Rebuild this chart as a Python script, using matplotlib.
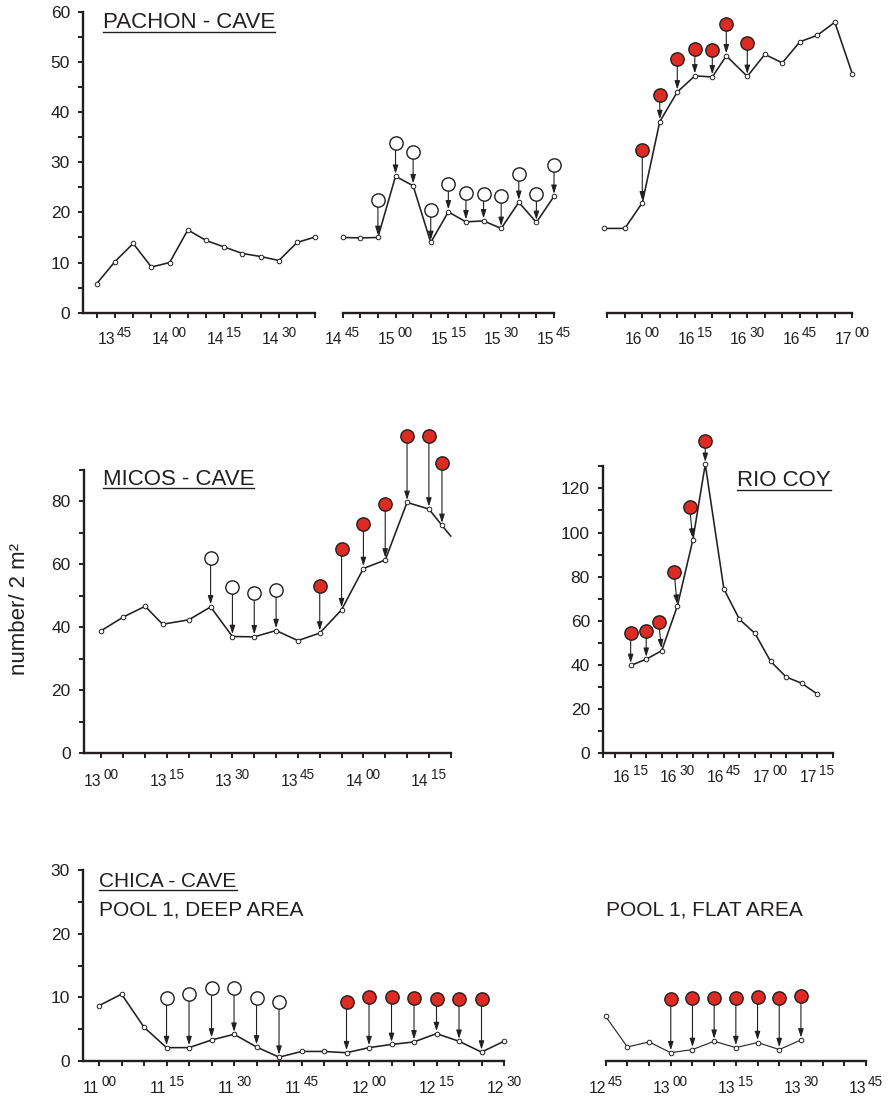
import numpy as np
import matplotlib.pyplot as plt
from matplotlib.lines import Line2D
from matplotlib.ticker import MultipleLocator
from matplotlib.transforms import offset_copy

plt.rcParams['font.family'] = ['Liberation Sans', 'DejaVu Sans']

INK = '#231f20'
RED = '#dc2b22'

# ---- PACHON - CAVE (three runs) ----
pachon_a_time = ['13:40', '13:45', '13:50', '13:55', '14:00', '14:05', '14:10',
                 '14:15', '14:20', '14:25', '14:30', '14:35', '14:40']
pachon_a_n = [5.8, 10.2, 13.8, 9.1, 10.0, 16.5, 14.4, 13.1, 11.8, 11.2, 10.4, 14.0, 15.1]

pachon_b_time = ['14:45', '14:50', '14:55', '15:00', '15:05', '15:10', '15:15',
                 '15:20', '15:25', '15:30', '15:35', '15:40', '15:45']
pachon_b_n = [15.0, 14.9, 15.0, 27.2, 25.3, 14.0, 20.1, 18.1, 18.3, 16.8, 22.0, 18.0, 23.2]
pachon_b_open_time = ['14:55', '15:00', '15:05', '15:10', '15:15', '15:20',
                      '15:25', '15:30', '15:35', '15:40', '15:45']
pachon_b_open = [22.5, 33.9, 32.0, 20.5, 25.6, 23.8, 23.7, 23.2, 27.6, 23.6, 29.4]

pachon_c_time = ['15:49', '15:55', '16:00', '16:05', '16:10', '16:15', '16:20', '16:24',
                 '16:30', '16:35', '16:40', '16:45', '16:50', '16:55', '17:00']
pachon_c_n = [16.8, 16.8, 21.9, 38.1, 44.0, 47.2, 47.0, 51.2, 47.1, 51.5, 49.8,
              54.0, 55.3, 57.9, 47.6]
pachon_c_red_time = ['16:00', '16:05', '16:10', '16:15', '16:20', '16:24', '16:30']
pachon_c_red = [32.4, 43.3, 50.5, 52.5, 52.4, 57.5, 53.7]

# ---- MICOS - CAVE ----
micos_time = ['13:00', '13:05', '13:10', '13:14', '13:20', '13:25', '13:30', '13:35',
              '13:40', '13:45', '13:50', '13:55', '14:00', '14:05', '14:10', '14:15',
              '14:18', '14:20']
micos_n = [39.0, 43.3, 46.7, 41.0, 42.4, 46.5, 37.1, 37.0, 39.0, 35.8, 38.2, 45.6,
           58.7, 61.4, 79.7, 77.6, 72.4, 69.0]
micos_open_time = ['13:25', '13:30', '13:35', '13:40']
micos_open = [62.1, 52.7, 50.8, 51.8]
micos_red_time = ['13:50', '13:55', '14:00', '14:05', '14:10', '14:15', '14:18']
micos_red = [53.3, 64.9, 72.8, 79.2, 100.8, 100.8, 92.3]

# ---- RIO COY ----
rio_time = ['16:15', '16:20', '16:25', '16:30', '16:35', '16:39', '16:45', '16:50',
            '16:55', '17:00', '17:05', '17:10', '17:15']
rio_n = [39.8, 42.6, 46.5, 66.6, 96.6, 130.9, 74.4, 60.7, 54.3, 41.7, 34.6, 31.7, 26.9]
rio_red_time = ['16:15', '16:20', '16:24', '16:29', '16:34', '16:39']
rio_red = [54.3, 55.2, 59.5, 82.1, 111.4, 141.6]

# ---- CHICA - CAVE, pool 1 ----
deep_time = ['11:00', '11:05', '11:10', '11:15', '11:20', '11:25', '11:30', '11:35',
             '11:40', '11:45', '11:50', '11:55', '12:00', '12:05', '12:10', '12:15',
             '12:20', '12:25', '12:30']
deep_n = [8.7, 10.5, 5.3, 2.1, 2.1, 3.3, 4.2, 2.2, 0.6, 1.5, 1.5, 1.3, 2.1, 2.6,
          3.0, 4.3, 3.1, 1.4, 3.1]
deep_open_time = ['11:15', '11:20', '11:25', '11:30', '11:35', '11:40']
deep_open = [9.9, 10.6, 11.4, 11.5, 9.9, 9.2]
deep_red_time = ['11:55', '12:00', '12:05', '12:10', '12:15', '12:20', '12:25']
deep_red = [9.3, 10.1, 10.1, 9.9, 9.8, 9.8, 9.7]

flat_time = ['12:45', '12:50', '12:55', '13:00', '13:05', '13:10', '13:15', '13:20',
             '13:25', '13:30']
flat_n = [7.0, 2.2, 3.0, 1.3, 1.8, 3.1, 2.1, 2.9, 1.8, 3.3]
flat_red_time = ['13:00', '13:05', '13:10', '13:15', '13:20', '13:25', '13:30']
flat_red = [9.8, 9.9, 9.9, 9.9, 10.1, 9.9, 10.2]

# x tick labels (quarter hours)
pachon_a_labels = ['13:45', '14:00', '14:15', '14:30']
pachon_b_labels = ['14:45', '15:00', '15:15', '15:30', '15:45']
pachon_c_labels = ['16:00', '16:15', '16:30', '16:45', '17:00']
micos_labels = ['13:00', '13:15', '13:30', '13:45', '14:00', '14:15']
rio_labels = ['16:15', '16:30', '16:45', '17:00', '17:15']
deep_labels = ['11:00', '11:15', '11:30', '11:45', '12:00', '12:15', '12:30']
flat_labels = ['12:45', '13:00', '13:15', '13:30', '13:45']


def to_min(s):
    h, m = s.split(':')
    return int(h) * 60 + float(m)


W, H = 891, 1099
fig = plt.figure(figsize=(W / 100, H / 100), dpi=100)


def add_ax(x0, y0, x1, y1):
    return fig.add_axes([x0 / W, 1 - y1 / H, (x1 - x0) / W, (y1 - y0) / H])


def style(ax, xlim, ylim, first, last, labels, ystep=None, ylabstep=None,
          bounds=None, extra=None, lab_dy=31):
    ax.set_xlim(to_min(xlim[0]), to_min(xlim[1]))
    ax.set_ylim(*ylim)
    ax.patch.set_visible(False)
    for s in ['top', 'right']:
        ax.spines[s].set_visible(False)
    for s in ['left', 'bottom']:
        ax.spines[s].set_linewidth(1.7)
        ax.spines[s].set_color(INK)
    if bounds:
        ax.spines['bottom'].set_bounds(to_min(bounds[0]), to_min(bounds[1]))
    ticks = list(np.arange(to_min(first), to_min(last) + 0.1, 5))
    if extra:
        ticks = [to_min(extra)] + ticks
    ax.set_xticks(ticks)
    ax.tick_params(axis='x', direction='out', length=3.6, width=1.4, color=INK,
                   labelbottom=False)
    # hour with minutes raised, as in the original
    trans = ax.get_xaxis_transform()
    for lab in labels:
        h, m = lab.split(':')
        t = to_min(lab)
        ax.text(t, 0, h, fontsize=11.3, color=INK, ha='right', va='baseline',
                transform=offset_copy(trans, fig, x=0, y=-lab_dy, units='dots'))
        ax.text(t, 0, m, fontsize=9.8, color=INK, ha='left', va='baseline',
                transform=offset_copy(trans, fig, x=2.2, y=-lab_dy + 7, units='dots'))
    if ystep is None:
        ax.spines['left'].set_visible(False)
        ax.tick_params(axis='y', left=False, labelleft=False)
    else:
        ax.yaxis.set_major_locator(MultipleLocator(ylabstep))
        ax.yaxis.set_minor_locator(MultipleLocator(ystep))
        ax.tick_params(axis='y', which='both', direction='out', length=3.6, width=1.4,
                       color=INK, labelsize=12.5, labelcolor=INK, pad=6)


def draw_series(ax, times, values, lw=1.15, n_marks=None):
    t = [to_min(s) for s in times]
    ax.plot(t, values, '-', color=INK, lw=lw, clip_on=False, zorder=3)
    ax.plot(t[:n_marks], values[:n_marks], 'o', ms=3.3, mfc='white', mec=INK,
            mew=0.7, clip_on=False, zorder=4)


def draw_marks(ax, mark_times, mark_values, times, values, face):
    t = np.array([to_min(s) for s in times])
    for mt_s, mv in zip(mark_times, mark_values):
        mt = to_min(mt_s)
        i = int(np.argmin(np.abs(t - mt)))
        ann = ax.annotate('', xy=(t[i], values[i]), xytext=(mt, mv),
                          arrowprops=dict(arrowstyle='-|>,head_length=0.5,head_width=0.16',
                                          mutation_scale=10, color=INK, lw=0.8,
                                          shrinkA=5, shrinkB=1.8),
                          annotation_clip=False, zorder=5)
        ann.arrow_patch.set_clip_on(False)
    ax.plot([to_min(s) for s in mark_times], mark_values, 'o', ms=9.6, mfc=face,
            mec=INK, mew=1.0, clip_on=False, zorder=6)


# top row: PACHON
ax1 = add_ax(83.3, 11.7, 315.3, 312.7)
style(ax1, ('13:36.3', '14:40'), (0, 60), '13:40', '14:40', pachon_a_labels, 5, 10,
      lab_dy=31)
draw_series(ax1, pachon_a_time, pachon_a_n)

ax2 = add_ax(342.7, 11.7, 554, 312.7)
style(ax2, ('14:45', '15:45'), (0, 60), '14:45', '15:45', pachon_b_labels, lab_dy=31)
draw_series(ax2, pachon_b_time, pachon_b_n)
draw_marks(ax2, pachon_b_open_time, pachon_b_open, pachon_b_time, pachon_b_n, 'white')

ax3 = add_ax(603.8, 11.7, 852.3, 312.7)
style(ax3, ('15:49', '17:00'), (0, 60), '15:50', '17:00', pachon_c_labels,
      bounds=('15:50', '17:00'), lab_dy=31)
draw_series(ax3, pachon_c_time, pachon_c_n)
draw_marks(ax3, pachon_c_red_time, pachon_c_red, pachon_c_time, pachon_c_n, RED)

# middle row: MICOS and RIO COY
ax4 = add_ax(84, 470, 450.7, 753.3)
style(ax4, ('12:56', '14:20'), (0, 90), '13:00', '14:20', micos_labels, 10, 20,
      lab_dy=33)
draw_series(ax4, micos_time, micos_n, n_marks=-1)
draw_marks(ax4, micos_open_time, micos_open, micos_time, micos_n, 'white')
draw_marks(ax4, micos_red_time, micos_red, micos_time, micos_n, RED)

ax5 = add_ax(603.3, 466.3, 832.7, 753.3)
style(ax5, ('16:06.2', '17:20'), (0, 130), '16:10', '17:20', rio_labels, 10, 20,
      extra='16:06.2', lab_dy=29)
draw_series(ax5, rio_time, rio_n)
draw_marks(ax5, rio_red_time, rio_red, rio_time, rio_n, RED)

# bottom row: CHICA
ax6 = add_ax(83.3, 870, 504, 1061)
style(ax6, ('10:56.5', '12:30'), (0, 30), '11:00', '12:30', deep_labels, 5, 10,
      lab_dy=32)
draw_series(ax6, deep_time, deep_n)
draw_marks(ax6, deep_open_time, deep_open, deep_time, deep_n, 'white')
draw_marks(ax6, deep_red_time, deep_red, deep_time, deep_n, RED)

ax7 = add_ax(605.7, 870, 866, 1061)
style(ax7, ('12:45', '13:45'), (0, 30), '12:45', '13:45', flat_labels, lab_dy=32)
draw_series(ax7, flat_time, flat_n, lw=0.8)
draw_marks(ax7, flat_red_time, flat_red, flat_time, flat_n, RED)

# panel titles
titles = []


def title(text, x, y_base, size, underline=True):
    t = fig.text(x / W, 1 - y_base / H, text, fontsize=size, color=INK,
                 ha='left', va='baseline')
    if underline:
        titles.append((t, y_base))


title('PACHON - CAVE', 103, 28.3, 16)
title('MICOS - CAVE', 103, 485, 16)
title('RIO COY', 737, 486, 16)
title('CHICA - CAVE', 99.3, 886.7, 15)
title('POOL 1, DEEP AREA', 99.3, 915, 15, underline=False)
title('POOL 1, FLAT AREA', 606, 915, 15, underline=False)

fig.text(20 / W, 1 - 609 / H, 'number/ 2 m²', rotation=90, fontsize=16,
         color=INK, ha='center', va='center')

fig.canvas.draw()
for t, yb in titles:
    bb = t.get_window_extent()
    yl = 1 - (yb + 3.5) / H
    fig.add_artist(Line2D([bb.x0 / W, bb.x1 / W], [yl, yl], lw=1.0, color=INK))

fig.savefig('out.png', dpi=100)
